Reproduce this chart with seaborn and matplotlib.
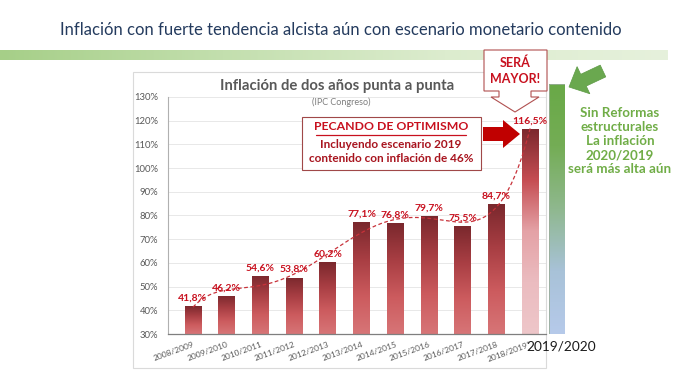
import numpy as np
import pandas as pd
import seaborn as sns
import matplotlib.pyplot as plt
from matplotlib.colors import LinearSegmentedColormap
from matplotlib.patches import Rectangle, Polygon, FancyArrow
from matplotlib.transforms import ScaledTranslation

# ------------------------------DATOS------------------------------
periodos = ['2008/2009', '2009/2010', '2010/2011', '2011/2012', '2012/2013', '2013/2014',
            '2014/2015', '2015/2016', '2016/2017', '2017/2018', '2018/2019*']
inflacion = [41.8, 46.2, 54.6, 53.8, 60.2, 77.1, 76.8, 79.7, 75.5, 84.7, 116.5]
y_ticks = [30, 40, 50, 60, 70, 80, 90, 100, 110, 120, 130]
periodo_2020 = ['2019/2020']
proyeccion_2020 = [135.5]   # barra ilustrativa, sin valor

sns.set_style("white")
plt.rcParams['font.family'] = ['Lato', 'DejaVu Sans']

W, H = 680, 382
fig = plt.figure(figsize=(6.8, 3.82), dpi=100)


def px_axes(x0, y0, x1, y1):
    """Crea un eje a partir de coordenadas en píxeles (origen arriba a la izquierda)."""
    return fig.add_axes([x0 / W, 1 - y1 / H, (x1 - x0) / W, (y1 - y0) / H])


def gradiente(ax, patch, cmap, base):
    """Rellena una barra con un degradado vertical."""
    x0, w, h = patch.get_x(), patch.get_width(), patch.get_height()
    im = ax.imshow(np.linspace(0, 1, 256).reshape(-1, 1), cmap=cmap, aspect='auto',
                   extent=[x0, x0 + w, base, h], origin='upper', zorder=2)
    im.set_clip_path(patch)
    patch.set_facecolor('none')
    patch.set_edgecolor('none')


cmap_barra = LinearSegmentedColormap.from_list('barra', ['#7a282d', '#a83e43', '#cc5b5e', '#d77577'])
cmap_ultima = LinearSegmentedColormap.from_list('ultima', ['#7a282d', '#c54d52', '#e4a2a6', '#ebbcc0', '#eec6c9'])
cmap_verde = LinearSegmentedColormap.from_list('verde', ['#69a947', '#74ad55', '#8fb88e', '#a8c2d8', '#b6caea'])
cmap_banda = LinearSegmentedColormap.from_list('banda', ['#a6cf88', '#c3dfae', '#dcecce', '#e6f1dc'])

# -------------Fondo: banda verde y panel-------------
bg = px_axes(0, 0, W, H)
bg.imshow(np.linspace(0, 1, 256).reshape(1, -1), cmap=cmap_banda, aspect='auto',
          extent=[0, 668, 60, 50])
bg.add_patch(Rectangle((133, 72), 413, 296, fc='white', ec='#dadada', lw=0.8))
bg.set_xlim(0, W)
bg.set_ylim(H, 0)
bg.axis('off')

# -------------Gráfico principal-------------
ax = px_axes(168, 97, 546, 334)
ax.patch.set_alpha(0)
df = pd.DataFrame({'periodo': periodos, 'inflacion': inflacion})
sns.barplot(data=df, x='periodo', y='inflacion', ax=ax, width=0.5, color='#a83e43', saturation=1)

barras = list(ax.containers[0])
for i, p in enumerate(barras):
    gradiente(ax, p, cmap_ultima if i == len(barras) - 1 else cmap_barra, 30)

# línea de tendencia polinómica
xs = np.linspace(0, len(inflacion) - 1, 200)
ys = np.polyval(np.polyfit(np.arange(len(inflacion)), inflacion, 6), xs)
ax.plot(xs, ys, ls=(0, (3, 2)), color='#c8323a', lw=0.9, zorder=3)

for i, v in enumerate(inflacion):
    ax.annotate(f'{v:.1f}%'.replace('.', ','), (i, v), xytext=(0, 2.5), textcoords='offset points',
                ha='center', va='bottom', fontsize=7.5, fontweight='bold', color='#c8101e', zorder=4)

ax.set_xlim(-0.74, 10.47)
ax.set_ylim(30, 130)
ax.set_yticks(y_ticks)
ax.set_yticklabels([f'{t}%' for t in y_ticks])
ax.set_xticks(range(len(periodos)))
ax.set_xticklabels(periodos, rotation=20, ha='right', rotation_mode='anchor')
for lbl in ax.get_xticklabels():
    lbl.set_transform(lbl.get_transform() + ScaledTranslation(-6 / 72, 0, fig.dpi_scale_trans))
ax.tick_params(axis='y', length=0, pad=7, labelsize=6.8, labelcolor='#595959')
ax.tick_params(axis='x', length=0, pad=5, labelsize=6, labelcolor='#595959')
ax.yaxis.grid(True, color='#e4e4e4', lw=0.6)
ax.set_axisbelow(True)
ax.set_xlabel('')
ax.set_ylabel('')
sns.despine(ax=ax)
ax.spines['left'].set_color('#b0b0b0')
ax.spines['left'].set_linewidth(0.8)
ax.spines['bottom'].set_color('#7f7f7f')
ax.spines['bottom'].set_linewidth(0.9)

# -------------Barra 2019/2020-------------
ax2 = px_axes(549, 83, 565, 334)
ax2.patch.set_alpha(0)
sns.barplot(x=periodo_2020, y=proyeccion_2020, ax=ax2, width=1, color='#8fb88e', saturation=1)
for p in ax2.containers[0]:
    gradiente(ax2, p, cmap_verde, 30)
    ax2.add_patch(Rectangle((p.get_x(), 30), p.get_width(), p.get_height() - 30,
                            fc='none', ec='#9aae9a', lw=0.6, zorder=3))
ax2.set_xlim(-0.5, 0.5)
ax2.set_ylim(30, 135.9)
ax2.set_yticks([])
ax2.tick_params(axis='x', length=0, pad=5, labelsize=9.8, labelcolor='#1a1a1a')
for lbl in ax2.get_xticklabels():
    lbl.set_transform(lbl.get_transform() + ScaledTranslation(3 / 72, 0, fig.dpi_scale_trans))
ax2.set_xlabel('')
ax2.set_ylabel('')
sns.despine(ax=ax2, left=True, bottom=True)

# -------------Anotaciones-------------
fg = px_axes(0, 0, W, H)
fg.patch.set_alpha(0)
fg.set_xlim(0, W)
fg.set_ylim(H, 0)
fg.axis('off')

fg.text(341, 30, 'Inflación con fuerte tendencia alcista aún con escenario monetario contenido',
        ha='center', va='center', fontsize=12, color='#243b5e')
fg.text(337, 86, 'Inflación de dos años punta a punta', ha='center', va='center',
        fontsize=10.7, fontweight='bold', color='#595959')
fg.text(341, 102, '(IPC Congreso)', ha='center', va='center', fontsize=6.5, color='#7f7f7f')

# recuadro "Pecando de optimismo"
fg.add_patch(Rectangle((302, 117), 179, 53, fc='white', ec='#a04848', lw=0.8))
fg.text(391, 127, 'PECANDO DE OPTIMISMO', ha='center', va='center', fontsize=8.8,
        fontweight='bold', color='#c8101e')
fg.plot([316, 466], [134.5, 134.5], color='#c8101e', lw=0.9)
fg.text(391, 145, 'Incluyendo escenario 2019', ha='center', va='center', fontsize=8.5,
        fontweight='bold', color='#a8141e')
fg.text(391, 158.5, 'contenido con inflación de 46%', ha='center', va='center', fontsize=8.5,
        fontweight='bold', color='#a8141e')
fg.add_patch(Polygon([(483, 127), (503, 127), (503, 120), (520, 134), (503, 148), (503, 141), (483, 141)],
                     closed=True, fc='#c00000', ec='none'))

# llamada "Será mayor!"
fg.add_patch(Polygon([(484, 50), (547, 50), (547, 91), (531, 91), (531, 97), (539, 97), (515, 112),
                      (491, 97), (499, 97), (499, 91), (484, 91)],
                     closed=True, fc='white', ec='#b05050', lw=0.8))
fg.text(515, 63, 'SERÁ', ha='center', va='center', fontsize=9, fontweight='bold', color='#c8101e')
fg.text(515, 79, 'MAYOR!', ha='center', va='center', fontsize=9, fontweight='bold', color='#c8101e')

# flecha verde y texto
fg.add_patch(FancyArrow(603, 71, -34, 16, width=13, head_width=30, head_length=16,
                        length_includes_head=True, fc='#6aa84f', ec='#5d9a45', lw=0.5))
fg.text(620, 141, 'Sin Reformas\nestructurales\nLa inflación\n2020/2019\nserá más alta aún',
        ha='center', va='center', fontsize=9.6, fontweight='bold', color='#70ad47', linespacing=1.2)

fig.savefig('out.png', dpi=100)
